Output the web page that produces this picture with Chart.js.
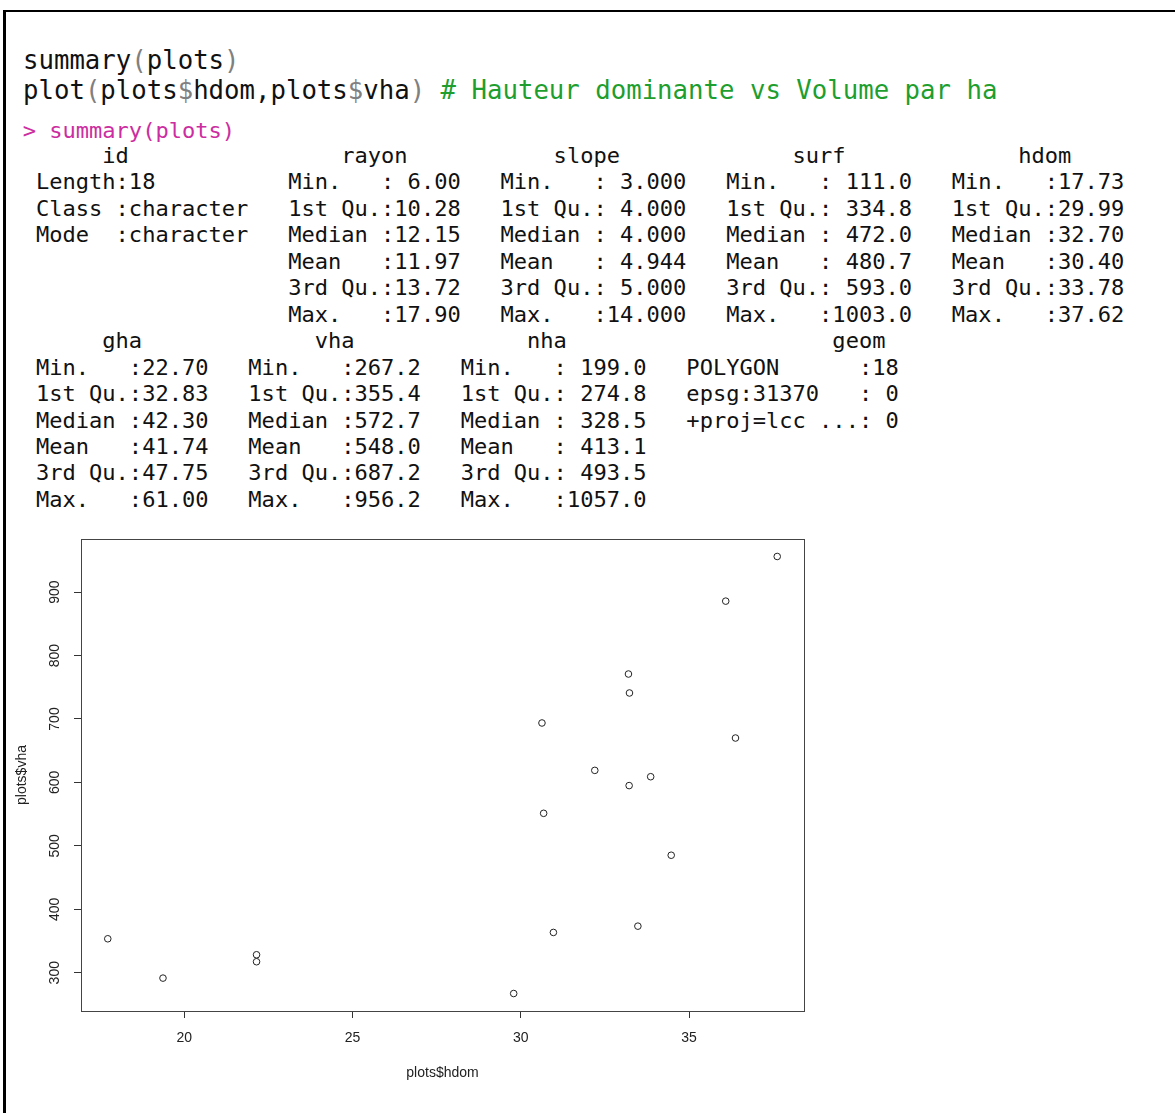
<!DOCTYPE html>
<html>
<head>
<meta charset="utf-8">
<script src="https://cdn.jsdelivr.net/npm/chart.js@4"></script>
<style>
  body { margin: 0; background: #fff; }
  #page { position: relative; width: 1175px; height: 1113px; overflow: hidden; background: #fff; }
  #frame { position: absolute; left: 3px; top: 10px; right: 0; bottom: 0; border-top: 2px solid #000; border-left: 3px solid #000; }
  pre { position: absolute; margin: 0; font-family: "DejaVu Sans Mono", monospace; white-space: pre; }
  #script { left: 23px; top: 45px; font-size: 25.7px; line-height: 30px; color: #111; }
  #script .p { color: #808080; }
  #script .c { color: #1e9e2e; }
  #echo { left: 22.7px; top: 117.5px; font-size: 22.06px; line-height: 26.45px; color: #cc2da0; }
  #out { left: 22.7px; top: 143px; font-size: 22.06px; line-height: 26.45px; color: #111; }
  #plot { position: absolute; left: 0; top: 520px; }
</style>
</head>
<body>
<div id="page">
  <div id="frame"></div>
  <pre id="script">summary<span class="p">(</span>plots<span class="p">)</span>
plot<span class="p">(</span>plots<span class="p">$</span>hdom,plots<span class="p">$</span>vha<span class="p">)</span> <span class="c"># Hauteur dominante vs Volume par ha</span></pre>
  <pre id="echo">&gt; summary(plots)</pre>
  <pre id="out"></pre>
  <canvas id="plot" width="830" height="593"></canvas>
</div>
<script>
// Donnees du nuage de points
const hdom = [17.73, 19.37, 22.15, 22.15, 29.79, 30.63, 30.68, 30.97, 32.20,
              33.20, 33.22, 33.23, 33.48, 33.86, 34.47, 36.09, 36.38, 37.62];
const vha = [353.5, 291.5, 328.3, 317.3, 267.2, 693.7, 551.3, 363.5, 619.0,
             770.9, 595.0, 741.0, 373.4, 609.0, 485.2, 885.8, 670.0, 956.2];
const xTicks = [20, 25, 30, 35];
const yTicks = [300, 400, 500, 600, 700, 800, 900];
const xLabel = "plots$hdom";
const yLabel = "plots$vha";

// Sortie de summary(plots), colonne par colonne
const head1 = [[6, "id"], [24, "rayon"], [40, "slope"], [58, "surf"], [75, "hdom"]];
const cols1 = [1, 20, 36, 53, 70];
const rows1 = [
  ["Length:18", "Min.   : 6.00", "Min.   : 3.000", "Min.   : 111.0", "Min.   :17.73"],
  ["Class :character", "1st Qu.:10.28", "1st Qu.: 4.000", "1st Qu.: 334.8", "1st Qu.:29.99"],
  ["Mode  :character", "Median :12.15", "Median : 4.000", "Median : 472.0", "Median :32.70"],
  ["", "Mean   :11.97", "Mean   : 4.944", "Mean   : 480.7", "Mean   :30.40"],
  ["", "3rd Qu.:13.72", "3rd Qu.: 5.000", "3rd Qu.: 593.0", "3rd Qu.:33.78"],
  ["", "Max.   :17.90", "Max.   :14.000", "Max.   :1003.0", "Max.   :37.62"]
];
const head2 = [[6, "gha"], [22, "vha"], [38, "nha"], [61, "geom"]];
const cols2 = [1, 17, 33, 50];
const rows2 = [
  ["Min.   :22.70", "Min.   :267.2", "Min.   : 199.0", "POLYGON      :18"],
  ["1st Qu.:32.83", "1st Qu.:355.4", "1st Qu.: 274.8", "epsg:31370   : 0"],
  ["Median :42.30", "Median :572.7", "Median : 328.5", "+proj=lcc ...: 0"],
  ["Mean   :41.74", "Mean   :548.0", "Mean   : 413.1", ""],
  ["3rd Qu.:47.75", "3rd Qu.:687.2", "3rd Qu.: 493.5", ""],
  ["Max.   :61.00", "Max.   :956.2", "Max.   :1057.0", ""]
];

function ligne(parts) {
  let s = "";
  parts.forEach(([c, t]) => {
    if (t) s = s.padEnd(c) + t;
  });
  return s;
}

const lignes = [ligne(head1)];
rows1.forEach(r => lignes.push(ligne(r.map((t, i) => [cols1[i], t]))));
lignes.push(ligne(head2));
rows2.forEach(r => lignes.push(ligne(r.map((t, i) => [cols2[i], t]))));
document.getElementById("out").textContent = lignes.join("\n");

// Etendue des axes comme R (4% de chaque cote)
function etendue(v) {
  const lo = Math.min(...v), hi = Math.max(...v), d = (hi - lo) * 0.04;
  return [lo - d, hi + d];
}
const [xMin, xMax] = etendue(hdom);
const [yMin, yMax] = etendue(vha);

const police = { family: "'Liberation Sans', Arial, sans-serif", size: 14 };

// Cadre autour de la zone de trace (box() dans R)
const cadre = {
  id: "cadre",
  afterDatasetsDraw(chart) {
    const { ctx, chartArea: a } = chart;
    ctx.save();
    ctx.strokeStyle = "#444";
    ctx.lineWidth = 1;
    ctx.strokeRect(Math.round(a.left) + 0.5, Math.round(a.top) + 0.5,
                   Math.round(a.right - a.left), Math.round(a.bottom - a.top));
    ctx.restore();
  }
};

new Chart(document.getElementById("plot"), {
  type: "scatter",
  data: {
    datasets: [{
      data: hdom.map((x, i) => ({ x: x, y: vha[i] })),
      pointRadius: 3.3,
      pointHoverRadius: 3.3,
      pointBorderWidth: 1,
      pointBorderColor: "#222",
      pointBackgroundColor: "rgba(0,0,0,0)"
    }]
  },
  options: {
    responsive: false,
    animation: false,
    layout: { padding: { top: 19, right: 26, bottom: 0, left: 0 } },
    plugins: { legend: { display: false }, tooltip: { enabled: false } },
    scales: {
      x: {
        type: "linear",
        min: xMin,
        max: xMax,
        afterBuildTicks: s => { s.ticks = xTicks.map(v => ({ value: v })); },
        afterFit: s => { s.height = 102; },
        border: { display: false },
        grid: { drawOnChartArea: false, drawTicks: true, tickLength: 7, tickColor: "#333", color: "#333" },
        ticks: { font: police, color: "#222", padding: 12, autoSkip: false, maxRotation: 0 },
        title: { display: true, text: xLabel, font: police, color: "#222", padding: { top: 0, bottom: 31.6 } }
      },
      y: {
        type: "linear",
        min: yMin,
        max: yMax,
        afterBuildTicks: s => { s.ticks = yTicks.map(v => ({ value: v })); },
        afterFit: s => { s.width = 81; },
        border: { display: false },
        grid: { drawOnChartArea: false, drawTicks: true, tickLength: 7, tickColor: "#333", color: "#333" },
        ticks: { font: police, color: "#222", padding: 7.3, autoSkip: false, minRotation: 90, maxRotation: 90, crossAlign: "center" },
        title: { display: true, text: yLabel, font: police, color: "#222", padding: { top: 13.6, bottom: 0 } }
      }
    }
  },
  plugins: [cadre]
});
</script>
</body>
</html>
